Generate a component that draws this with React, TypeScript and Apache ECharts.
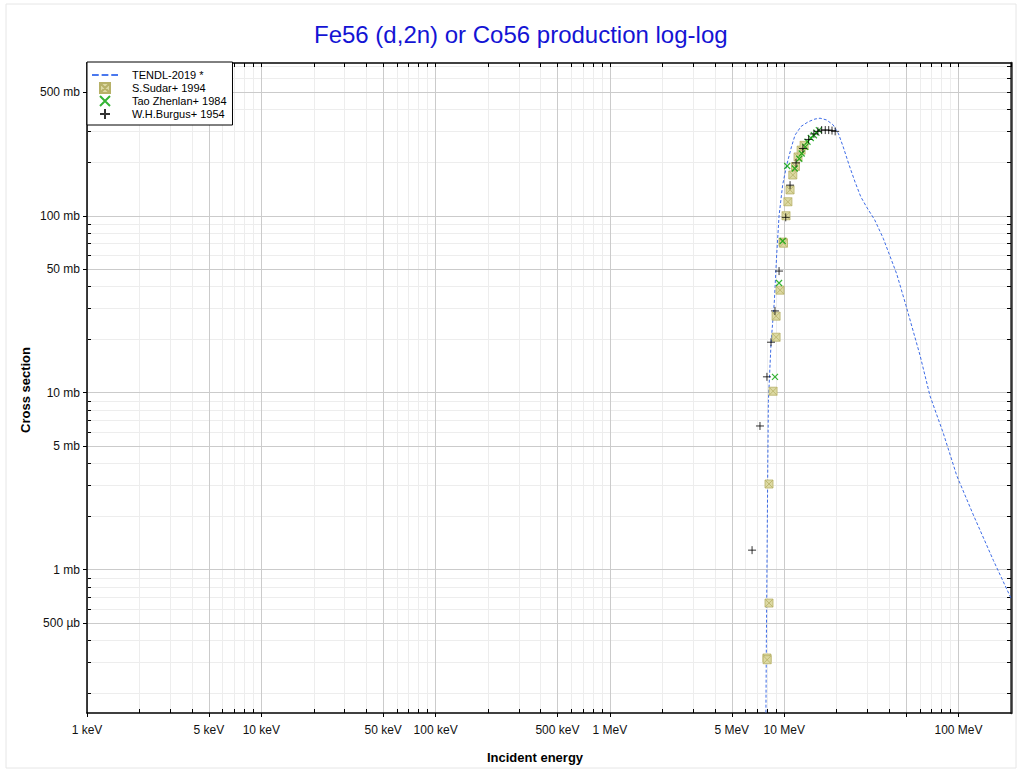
import React, { useEffect, useRef } from "react";
import * as echarts from "echarts";

const FONT = "Arial, 'Liberation Sans', Helvetica, sans-serif";

// Axis ranges (MeV, mb)
const xMinMeV = 0.001;
const xMaxMeV = 200;
const yMinMb = 0.155;
const yMaxMb = 730;

// Tick labels
const xLabelValues = [0.001, 0.005, 0.01, 0.05, 0.1, 0.5, 1, 5, 10, 100];
const xLabelTexts = ["1 keV", "5 keV", "10 keV", "50 keV", "100 keV", "500 keV", "1 MeV", "5 MeV", "10 MeV", "100 MeV"];
const xMajorTicks = [0.001, 0.005, 0.01, 0.05, 0.1, 0.5, 1, 5, 10, 50, 100];
const yLabelValues = [0.5, 1, 5, 10, 50, 100, 500];
const yLabelTexts = ["500 µb", "1 mb", "5 mb", "10 mb", "50 mb", "100 mb", "500 mb"];
const yMajorTicks = [0.5, 1, 5, 10, 50, 100, 500];
const minorMultipliers = [1, 2, 3, 4, 5, 6, 7, 8, 9];

// TENDL-2019 evaluated curve
const tendlE = [7.84, 7.9, 7.96, 8.05, 8.11, 8.4, 8.78, 9.05, 9.34, 9.8, 10.34, 11.0, 11.54, 12.5, 13.75, 15.0, 16.05, 17.5, 19.1, 20.5, 21.8, 23.5, 25.5, 27.5, 29.7, 33.0, 37.0, 44.2, 50.0, 60.1, 68.6, 81.8, 97.7, 121.6, 158.4, 200];
const tendlXS = [0.12, 0.4, 1.0, 4.0, 8.9, 19.0, 33.0, 60.0, 100, 150, 194, 245, 286, 320, 340, 352, 356, 348, 326, 290, 245, 195, 155, 128, 112, 95, 74.5, 46.9, 31.0, 16.3, 9.6, 5.9, 3.4, 2.04, 1.13, 0.69];

// EXFOR data sets
const sudarE = [7.96, 7.98, 8.18, 8.18, 8.63, 8.98, 8.98, 9.46, 9.84, 9.9, 10.24, 10.5, 10.8, 11.2, 11.6, 12.0, 12.5, 13.0];
const sudarXS = [0.317, 0.31, 0.648, 3.05, 10.2, 20.6, 27.1, 38, 71, 70, 100, 120, 140, 170, 190, 215, 235, 250];

const taoE = [8.85, 9.34, 9.8, 10.4, 11.5, 12.2, 12.6, 13.2, 13.6, 14.2, 14.8, 15.3, 15.8];
const taoXS = [12.3, 41.7, 72, 191, 185, 210, 225, 245, 262, 275, 285, 295, 305];

const burgusE = [6.54, 7.26, 7.96, 8.4, 8.85, 9.34, 10.2, 10.8, 11.69, 12.8, 13.8, 14.8, 15.6, 16.4, 17.2, 18.0, 18.8, 19.6];
const burgusXS = [1.29, 6.49, 12.3, 19.3, 29, 48.7, 98, 149, 199, 240, 270, 290, 300, 305, 305, 305, 303, 300];

const lg = Math.log10;

function ticksBetween(lo: number, hi: number): number[] {
  const out: number[] = [];
  for (let d = Math.floor(lg(lo)); d <= Math.ceil(lg(hi)); d++) {
    for (const m of minorMultipliers) {
      const v = m * Math.pow(10, d);
      if (v >= lo * 0.9999 && v <= hi * 1.0001) out.push(v);
    }
  }
  return out;
}

const SYM_BOXX = "path://M0,0H10V10H0ZM0,0L10,10M10,0L0,10";
const SYM_X = "path://M0,0L10,10M10,0L0,10";
const SYM_PLUS = "path://M5,0V10M0,5H10";
const ICON_DASH = "path://M0,0H7V2H0ZM10,0H17V2H10ZM20,0H27V2H20Z";

function labelFmt(pos: number[], texts: string[]) {
  return (v: number) => {
    const i = pos.findIndex((p) => Math.abs(p - v) < 1e-6);
    return i >= 0 ? texts[i] : "";
  };
}

export default function App() {
  const ref = useRef<HTMLDivElement>(null);

  useEffect(() => {
    if (!ref.current) return;
    const chart = echarts.init(ref.current, undefined, { renderer: "svg" });

    const xAll = ticksBetween(xMinMeV, xMaxMeV).map(lg);
    const yAll = ticksBetween(yMinMb, yMaxMb).map(lg);
    const xMaj = xMajorTicks.map(lg);
    const yMaj = yMajorTicks.map(lg);
    const xLab = xLabelValues.map(lg);
    const yLab = yLabelValues.map(lg);

    const xMin = lg(xMinMeV);
    const xMax = lg(xMaxMeV);
    const yMin = lg(yMinMb);
    const yMax = lg(yMaxMb);

    const toPts = (e: number[], s: number[]) => e.map((v, i) => [lg(v), lg(s[i])]);

    const baseX = { type: "value", min: xMin, max: xMax, gridIndex: 0 };
    const baseY = { type: "value", min: yMin, max: yMax, gridIndex: 0 };

    chart.setOption({
      animation: false,
      backgroundColor: "#ffffff",
      title: {
        text: "Fe56 (d,2n) or Co56 production log-log",
        left: 309,
        top: 17,
        textStyle: { color: "#1414d4", fontSize: 24, fontWeight: "normal", fontFamily: FONT },
      },
      grid: { left: 87, right: 11, top: 63, bottom: 60, containLabel: false, outerBoundsMode: "none" },
      legend: {
        orient: "vertical",
        left: 87,
        top: 62,
        padding: [7, 6, 5, 5],
        itemGap: 1,
        itemWidth: 26,
        itemHeight: 10,
        backgroundColor: "#ffffff",
        borderColor: "#000000",
        borderWidth: 1,
        borderRadius: 0,
        z: 20,
        textStyle: { fontSize: 11, lineHeight: 12, color: "#000", fontFamily: FONT, padding: [0, 0, 0, 9] },
        data: [
          { name: "TENDL-2019 *", icon: ICON_DASH, itemStyle: { color: "#4a78ee" } },
          "S.Sudar+ 1994",
          "Tao Zhenlan+ 1984",
          "W.H.Burgus+ 1954",
        ],
      },
      xAxis: [
        {
          ...baseX,
          position: "bottom",
          z: 3,
          axisLine: { show: true, onZero: false, lineStyle: { color: "#000", width: 1.5 } },
          axisTick: { show: true, inside: false, length: 4, customValues: xMaj, lineStyle: { color: "#000" } },
          axisLabel: {
            show: true,
            customValues: xLab,
            formatter: labelFmt(xLab, xLabelTexts),
            margin: 11,
            fontSize: 12,
            color: "#111",
            fontFamily: FONT,
          },
          splitLine: { show: true, lineStyle: { color: "#cbcbcb", width: 1 } },
        },
        {
          ...baseX,
          position: "bottom",
          z: 1,
          axisLine: { show: false, onZero: false },
          axisTick: { show: true, inside: true, length: 4, customValues: xAll, lineStyle: { color: "#000" } },
          axisLabel: { show: false },
          splitLine: { show: true, lineStyle: { color: "#ededed", width: 1 } },
        },
        {
          ...baseX,
          position: "top",
          z: 3,
          axisLine: { show: true, onZero: false, lineStyle: { color: "#000", width: 1.5 } },
          axisTick: { show: true, inside: true, length: 4, customValues: xAll, lineStyle: { color: "#000" } },
          axisLabel: { show: false },
          splitLine: { show: false },
        },
      ],
      yAxis: [
        {
          ...baseY,
          position: "left",
          z: 3,
          axisLine: { show: true, onZero: false, lineStyle: { color: "#000", width: 1.5 } },
          axisTick: { show: true, inside: false, length: 4, customValues: yMaj, lineStyle: { color: "#000" } },
          axisLabel: {
            show: true,
            customValues: yLab,
            formatter: labelFmt(yLab, yLabelTexts),
            margin: 7,
            fontSize: 12,
            color: "#111",
            fontFamily: FONT,
          },
          splitLine: { show: true, lineStyle: { color: "#cbcbcb", width: 1 } },
        },
        {
          ...baseY,
          position: "left",
          z: 1,
          axisLine: { show: false, onZero: false },
          axisTick: { show: true, inside: true, length: 4, customValues: yAll, lineStyle: { color: "#000" } },
          axisLabel: { show: false },
          splitLine: { show: true, lineStyle: { color: "#ededed", width: 1 } },
        },
        {
          ...baseY,
          position: "right",
          z: 3,
          axisLine: { show: true, onZero: false, lineStyle: { color: "#333", width: 2.5 } },
          axisTick: { show: true, inside: true, length: 4, customValues: yAll, lineStyle: { color: "#000" } },
          axisLabel: { show: false },
          splitLine: { show: false },
        },
      ],
      graphic: [
        {
          type: "rect",
          shape: { x: 6, y: 4, width: 1010, height: 764 },
          style: { fill: "none", stroke: "#e6e6e6", lineWidth: 1 },
          silent: true,
          z: -10,
        },
        {
          type: "text",
          x: 535,
          y: 757,
          style: { text: "Incident energy", font: `bold 13px ${FONT}`, fill: "#000", align: "center", verticalAlign: "middle" },
        },
        {
          type: "text",
          x: 25,
          y: 390,
          rotation: Math.PI / 2,
          style: { text: "Cross section", font: `bold 13px ${FONT}`, fill: "#000", align: "center", verticalAlign: "middle" },
        },
      ],
      series: [
        {
          name: "TENDL-2019 *",
          type: "line",
          xAxisIndex: 0,
          yAxisIndex: 0,
          data: toPts(tendlE, tendlXS),
          symbol: "none",
          showSymbol: false,
          clip: true,
          z: 5,
          itemStyle: { color: "#3d6be6" },
          lineStyle: { color: "#3d6be6", width: 1, type: [3, 2] },
        },
        {
          name: "S.Sudar+ 1994",
          type: "scatter",
          xAxisIndex: 0,
          yAxisIndex: 0,
          data: toPts(sudarE, sudarXS),
          symbol: SYM_BOXX,
          symbolSize: 8,
          z: 6,
          itemStyle: { color: "#dcd9a3", borderColor: "#b7b168", borderWidth: 0.8, opacity: 1 },
        },
        {
          name: "Tao Zhenlan+ 1984",
          type: "scatter",
          xAxisIndex: 0,
          yAxisIndex: 0,
          data: toPts(taoE, taoXS),
          symbol: SYM_X,
          symbolSize: 6,
          z: 7,
          itemStyle: { color: "#00a000", borderColor: "#00a000", borderWidth: 1.2 },
        },
        {
          name: "W.H.Burgus+ 1954",
          type: "scatter",
          xAxisIndex: 0,
          yAxisIndex: 0,
          data: toPts(burgusE, burgusXS),
          symbol: SYM_PLUS,
          symbolSize: 8,
          z: 8,
          itemStyle: { color: "#000", borderColor: "#000", borderWidth: 1 },
        },
      ],
    });

    return () => chart.dispose();
  }, []);

  return <div ref={ref} style={{ position: "absolute", left: 0, top: 0, width: 1022, height: 773 }} />;
}
